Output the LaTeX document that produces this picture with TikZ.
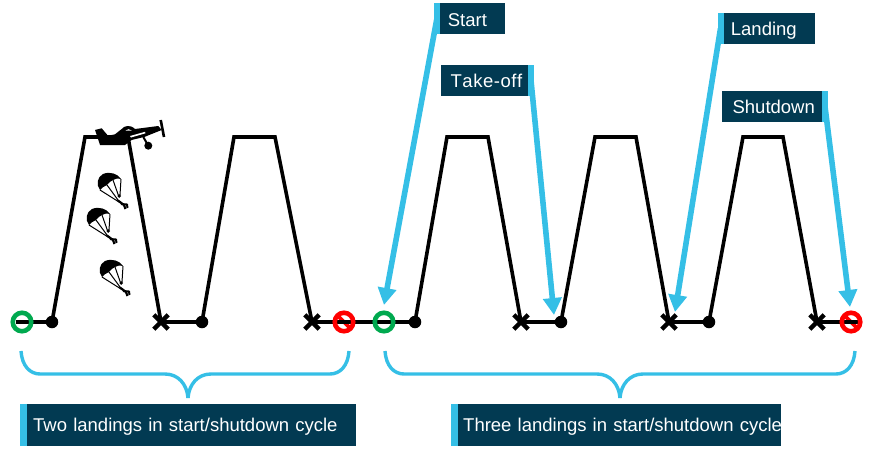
\documentclass[tikz,border=0pt]{standalone}
\usepackage{fontspec}
\setmainfont{Liberation Sans}
\usetikzlibrary{arrows.meta,shapes.misc,backgrounds}
\definecolor{navy}{HTML}{023A52}
\definecolor{sky}{HTML}{35BFE6}
\definecolor{gogreen}{HTML}{00A94F}
\tikzset{
  x=1pt,y=-1pt,
  route/.style={line width=3.6pt,black,line join=miter},
  dotnode/.style={circle,fill=black,inner sep=0pt,minimum size=12.5pt},
  crossnode/.style={cross out,draw=black,line width=4.4pt,inner sep=0pt,minimum size=10pt},
  startnode/.style={circle,draw=gogreen,line width=4.6pt,inner sep=0pt,minimum size=18.5pt},
  stopnode/.style={circle,draw=red,line width=4.6pt,inner sep=0pt,minimum size=18.5pt},
  labelbox/.style={fill=navy,text=white,inner sep=0pt,align=left,text height=13.4pt,text depth=0pt,font=\fontsize{18.5}{18.5}\selectfont},
  stripe/.style={fill=sky,inner sep=0pt},
  pointer/.style={draw=sky,line width=5.6pt,-{Triangle[length=17pt,width=18pt]}},
  bracket/.style={draw=sky,line width=3.4pt,line cap=butt},
  jumper/.pic={
    \fill[black] (-8,7) .. controls (-12,2) and (-11,-6) .. (-5,-9)
      .. controls (2,-12) and (10,-9) .. (13,-4)
      .. controls (9,-5) and (7,-4) .. (5,-3)
      .. controls (2,-2) and (1,0) .. (-1,2)
      .. controls (-4,3) and (-6,5) .. (-8,7) -- cycle;
    \draw[black,line width=1pt] (-8,7) -- (11,19) (-1,2) -- (10,17) (5,-3) -- (11,14) (13,-4) -- (12,12);
    \fill[black] (11.3,13) circle (1.9);
    \draw[black,line width=2.2pt,line join=round] (10,17.5) -- (16,22) -- (17.5,26);
    \draw[black,line width=2pt,line join=round] (13,21) -- (19,21.5) -- (19.5,25);
  }
}
\begin{document}
\begin{tikzpicture}
\useasboundingbox (0,0) rectangle (871,450);

% waypoints
\foreach \n/\x in {a/85,b/128,c/234,d/275,e/447,f/488,g/595,h/636,i/743,j/783}
  \coordinate (\n) at (\x,137);
\coordinate (routestart) at (16,322);
\coordinate (routeend) at (861,322);

\node[dotnode] (d1) at (52,322) {};
\node[crossnode] (x1) at (161,322) {};
\node[dotnode] (d2) at (202,322) {};
\node[crossnode] (x2) at (312,322) {};
\node[dotnode] (d3) at (415,322) {};
\node[crossnode] (x3) at (521,322) {};
\node[dotnode] (d4) at (561,322) {};
\node[crossnode] (x4) at (669,322) {};
\node[dotnode] (d5) at (709,322) {};
\node[crossnode] (x5) at (817,322) {};

\node[startnode] (s1) at (22,322) {};
\node[stopnode] (r1) at (344,322) {};
\node[startnode] (s2) at (384,322) {};
\node[stopnode] (r2) at (851,322) {};

\begin{scope}[on background layer]
\draw[red,line width=3.6pt] (r1.center)+(-6.5,-6.5) -- +(6.5,6.5);
\draw[red,line width=3.6pt] (r2.center)+(-6.5,-6.5) -- +(6.5,6.5);
\draw[route] (routestart) -- (d1.center) -- (a) -- (b) -- (x1.center) -- (d2.center) -- (c) -- (d) -- (x2.center) -- (r1.center) -- (s2.center) -- (d3.center) -- (e) -- (f) -- (x3.center) -- (d4.center) -- (g) -- (h) -- (x4.center) -- (d5.center) -- (i) -- (j) -- (x5.center) -- (routeend);
\end{scope}

% aeroplane
\fill[black] (95,130) -- (101.7,128.3) -- (108,135.7) -- (115,134.3) -- (121.7,129) .. controls (124,126) and (130,124) .. (135,129) -- (158.3,126) -- (161.7,130) -- (145,136.7) -- (131.7,140) -- (125,145) -- (100,145) -- (96.7,135) -- cycle;
\fill[white] (130,136) -- (145,131.8) -- (145.5,133.3) -- (131,137.5) -- cycle;
\fill[white] (125.5,130.5) .. controls (127,128.8) and (130,128.8) .. (131.7,130.5) -- cycle;
\draw[black,line width=2.6pt] (160.7,120) -- (164,137);
\draw[black,line width=2pt] (143.3,137) -- (148.3,145.7);
\fill[black] (148.3,145.7) circle (4);

% parachutes
\pic at (108,183) {jumper};
\pic at (97,218) {jumper};
\pic at (110,270) {jumper};

% tips of the pointers
\coordinate (starttip) at (384,305);
\coordinate (tktip) at (554,315);
\coordinate (ldtip) at (675,312);
\coordinate (sdtip) at (850,307);

% pointer stripes and shafts
\node[stripe,minimum height=31pt,minimum width=6pt] (startstrip) at (437,18) {};
\node[stripe,minimum height=31pt,minimum width=6pt] (tkstrip) at (531,80.5) {};
\node[stripe,minimum height=31pt,minimum width=6pt] (ldstrip) at (720.5,28.5) {};
\node[stripe,minimum height=31pt,minimum width=6pt] (sdstrip) at (825,106.5) {};
\draw[pointer] (startstrip.center) -- (starttip);
\draw[pointer] (tkstrip.center) -- (tktip);
\draw[pointer] (ldstrip.center) -- (ldtip);
\draw[pointer] (sdstrip.center) -- (sdtip);

% pointer labels
\node[labelbox,anchor=west,minimum width=65pt,minimum height=31pt,text width=50pt,text height=16pt] (startbox) at (startstrip.east) {\rlap{Start}};
\node[labelbox,anchor=east,minimum width=87pt,minimum height=31pt,text width=67pt] (tkbox) at (tkstrip.west) {\rlap{\addfontfeature{LetterSpace=3,Kerning=Off}Take-off}};
\node[labelbox,anchor=west,minimum width=91pt,minimum height=31pt,text width=77pt] (ldbox) at (ldstrip.east) {\rlap{Landing}};
\node[labelbox,anchor=east,minimum width=100pt,minimum height=31pt,text width=78pt] (sdbox) at (sdstrip.west) {\rlap{Shutdown}};

% braces
\draw[bracket] (21,351) .. controls (22,366) and (30,374) .. (40,374) -- (165,374) .. controls (178,374) and (187,384) .. (188,398);
\draw[bracket] (349,351) .. controls (348,366) and (340,374) .. (330,374) -- (211,374) .. controls (198,374) and (189,384) .. (188,398);
\draw[bracket] (385,351) .. controls (386,366) and (394,374) .. (404,374) -- (597,374) .. controls (610,374) and (619,384) .. (620,398);
\draw[bracket] (855,351) .. controls (854,366) and (846,374) .. (836,374) -- (643,374) .. controls (630,374) and (621,384) .. (620,398);

% cycle labels
\node[labelbox,anchor=west,minimum width=329pt,minimum height=42pt,text width=317pt] (lbl1) at (27,425) {\rlap{Two landings in start/shutdown cycle}};
\node[stripe,minimum height=42pt,minimum width=7pt,anchor=east] at (lbl1.west) {};
\node[labelbox,anchor=west,minimum width=323pt,minimum height=42pt,text width=313pt] (lbl2) at (458,425) {\rlap{Three landings in start/shutdown cycle}};
\node[stripe,minimum height=42pt,minimum width=7pt,anchor=east] at (lbl2.west) {};
\end{tikzpicture}
\end{document}
